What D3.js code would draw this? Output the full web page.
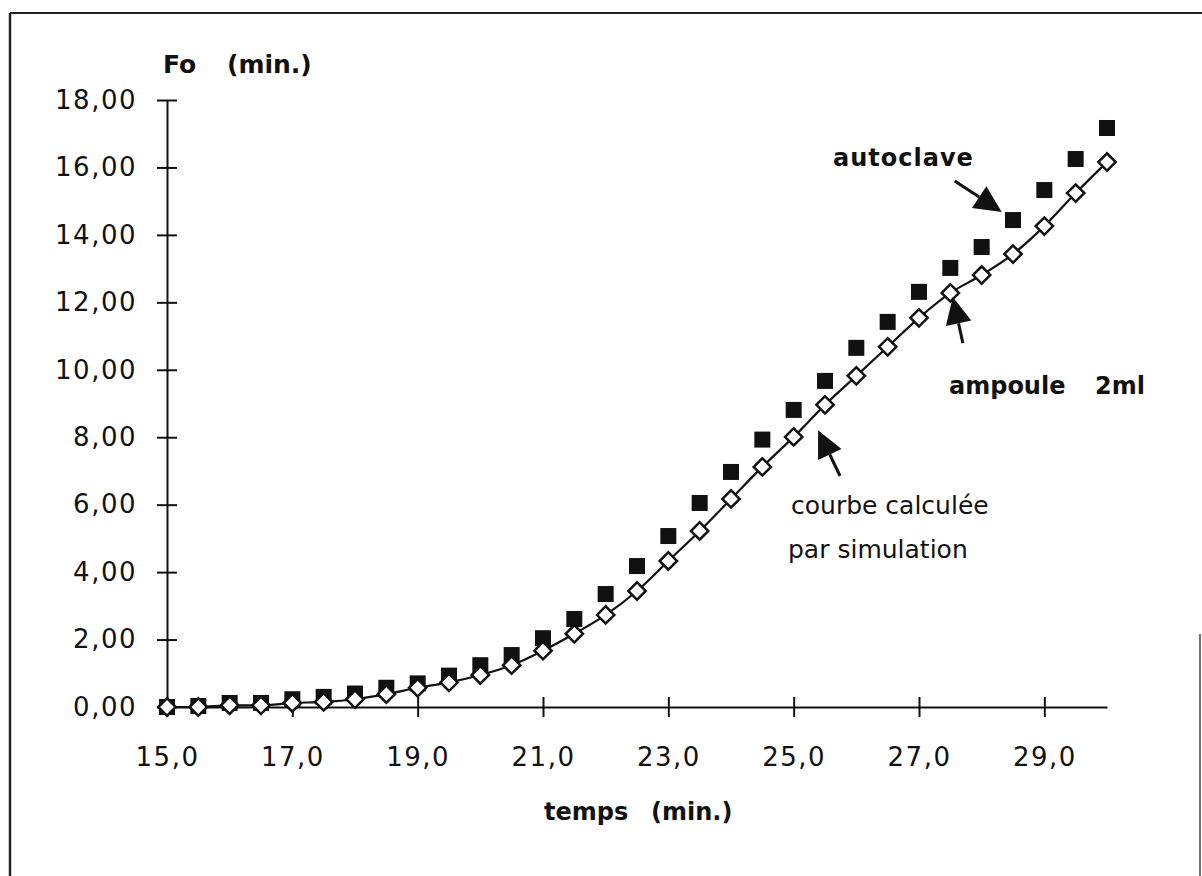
<!DOCTYPE html>
<html><head><meta charset="utf-8">
<script src="https://cdn.jsdelivr.net/npm/d3@7/dist/d3.min.js"></script>
<style>
html,body{margin:0;padding:0;background:#fff;}
svg{display:block;}
text{font-family:"DejaVu Sans",sans-serif;fill:#111;}
</style></head>
<body>
<svg id="chart" width="1202" height="876"></svg>
<script>
// ---- data ----
const times = [15,15.5,16,16.5,17,17.5,18,18.5,19,19.5,20,20.5,21,21.5,22,22.5,23,23.5,24,24.5,25,25.5,26,26.5,27,27.5,28,28.5,29,29.5,30];
const autoclave = [0.00,0.03,0.12,0.12,0.23,0.30,0.40,0.57,0.70,0.93,1.24,1.54,2.04,2.61,3.35,4.18,5.07,6.05,6.97,7.93,8.81,9.67,10.65,11.42,12.31,13.02,13.64,14.44,15.33,16.25,17.17];
const simulation = [0.00,0.00,0.05,0.05,0.12,0.15,0.23,0.38,0.57,0.73,0.95,1.24,1.67,2.17,2.73,3.44,4.33,5.22,6.17,7.12,8.01,8.96,9.82,10.68,11.54,12.28,12.81,13.43,14.26,15.24,16.16];
const yTicks = [0,2,4,6,8,10,12,14,16,18];
const yTickLabels = ["0,00","2,00","4,00","6,00","8,00","10,00","12,00","14,00","16,00","18,00"];
const xTicks = [15,17,19,21,23,25,27,29];
const xTickLabels = ["15,0","17,0","19,0","21,0","23,0","25,0","27,0","29,0"];
const yTitle = ["Fo", "(min.)"];
const xTitle = ["temps", "(min.)"];
// annotation arrows in data units: [tailX, tailY, tipX, tipY]
const arrows = [
  {name:"autoclave", tail:[27.57,15.60], tip:[28.32,14.68]},
  {name:"ampoule", tail:[27.70,10.79], tip:[27.54,12.16]},
  {name:"courbe", tail:[25.74,6.85], tip:[25.39,8.21]}
];

// ---- layout ----
const svg = d3.select("#chart");
const x = d3.scaleLinear().domain([15,30]).range([167,1107]);
const y = d3.scaleLinear().domain([0,18]).range([707,100]);

// frame
svg.append("line").attr("x1",10).attr("x2",1202).attr("y1",13).attr("y2",13).attr("stroke","#222").attr("stroke-width",2);
svg.append("line").attr("x1",10).attr("x2",10).attr("y1",13).attr("y2",876).attr("stroke","#222").attr("stroke-width",2.5);
svg.append("line").attr("x1",1200).attr("x2",1200).attr("y1",634).attr("y2",876).attr("stroke","#444").attr("stroke-width",1.5);

// y axis
const gy = svg.append("g").attr("transform",`translate(${x(15)},0)`)
  .call(d3.axisLeft(y).tickValues(yTicks).tickFormat((d,i)=>yTickLabels[i]).tickSize(10).tickSizeOuter(0).tickPadding(20));
gy.select(".domain").attr("stroke","#111").attr("stroke-width",2);
gy.selectAll(".tick line").attr("x1",10).attr("stroke","#111").attr("stroke-width",2);
gy.selectAll(".tick text").style("font-family","DejaVu Sans").style("font-size","26px").style("letter-spacing","1.5px").attr("fill","#111");

// x axis
const gx = svg.append("g").attr("transform",`translate(0,${y(0)})`)
  .call(d3.axisBottom(x).tickValues(xTicks).tickFormat((d,i)=>xTickLabels[i]).tickSize(10).tickSizeOuter(0).tickPadding(31));
gx.select(".domain").attr("stroke","#111").attr("stroke-width",2);
gx.selectAll(".tick line").attr("y1",-10).attr("stroke","#111").attr("stroke-width",2);
gx.selectAll(".tick text").style("font-family","DejaVu Sans").style("font-size","26px").style("letter-spacing","1.5px").attr("fill","#111");

// axis titles
svg.append("text").attr("x",163).attr("y",73).style("font-size","25px").style("font-weight","bold").text(yTitle[0]);
svg.append("text").attr("x",227).attr("y",73).style("font-size","25px").style("font-weight","bold").text(yTitle[1]);
svg.append("text").attr("x",544).attr("y",820).style("font-size","24px").style("font-weight","bold").text(xTitle[0]);
svg.append("text").attr("x",651).attr("y",820).style("font-size","24px").style("font-weight","bold").text(xTitle[1]);

// simulation line
const line = d3.line().x((d,i)=>x(times[i])).y(d=>y(d)).curve(d3.curveMonotoneX);
svg.append("path").datum(simulation).attr("d",line).attr("fill","none").attr("stroke","#111").attr("stroke-width",2.2);

// autoclave squares
const sq = 16;
svg.append("g").selectAll("rect").data(autoclave).join("rect")
  .attr("x",(d,i)=>x(times[i])-sq/2).attr("y",d=>y(d)-sq/2)
  .attr("width",sq).attr("height",sq).attr("fill","#111");

// simulation diamonds
const dsym = d3.symbol().type(d3.symbolSquare).size(150);
svg.append("g").selectAll("path").data(simulation).join("path")
  .attr("d",dsym)
  .attr("transform",(d,i)=>`translate(${x(times[i])},${y(d)}) rotate(45)`)
  .attr("fill","#fff").attr("stroke","#111").attr("stroke-width",2.5);

// arrows
arrows.forEach(a=>{
  const tx=x(a.tail[0]), ty=y(a.tail[1]), px=x(a.tip[0]), py=y(a.tip[1]);
  const dx=px-tx, dy=py-ty, len=Math.hypot(dx,dy), ux=dx/len, uy=dy/len;
  const L=27, W=13;
  const bx=px-ux*L, by=py-uy*L;
  svg.append("line").attr("x1",tx).attr("y1",ty).attr("x2",bx).attr("y2",by).attr("stroke","#111").attr("stroke-width",3);
  svg.append("path").attr("d",`M${px},${py}L${bx-uy*W},${by+ux*W}L${bx+uy*W},${by-ux*W}Z`).attr("fill","#111");
});

// annotation labels
svg.append("text").attr("x",833).attr("y",166).style("font-size","24px").style("font-weight","bold").style("letter-spacing","1px").text("autoclave");
svg.append("text").attr("x",949).attr("y",394).style("font-size","24px").style("font-weight","bold").text("ampoule");
svg.append("text").attr("x",1095).attr("y",394).style("font-size","24px").style("font-weight","bold").text("2ml");
svg.append("text").attr("x",791).attr("y",514).style("font-size","25px").text("courbe calculée");
svg.append("text").attr("x",788).attr("y",558).style("font-size","25px").text("par simulation");
</script>
</body></html>
